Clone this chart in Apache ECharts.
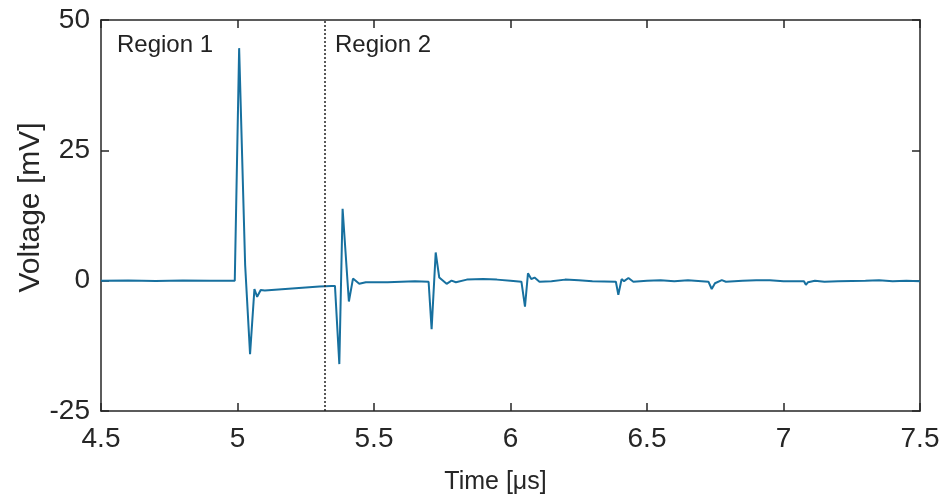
<!DOCTYPE html>
<html>
<head>
<meta charset="utf-8">
<script src="https://cdn.jsdelivr.net/npm/echarts@6/dist/echarts.min.js"></script>
<style>html,body{margin:0;padding:0;background:#fff}#c{width:943px;height:502px}</style>
</head>
<body>
<div id="c"></div>
<script>
// Time [µs]
const times = [4.50,4.60,4.70,4.80,4.90,4.990,4.994,5.006,5.028,5.046,5.062,5.072,5.085,5.10,5.15,5.20,5.25,5.30,5.345,
  5.357,5.373,5.385,5.408,5.423,5.446,5.47,5.55,5.60,5.65,5.700,
  5.703,5.711,5.726,5.739,5.766,5.784,5.80,5.84,5.90,5.95,6.00,6.040,
  6.045,6.053,6.064,6.076,6.088,6.106,6.15,6.20,6.25,6.30,6.386,
  6.395,6.407,6.416,6.432,6.450,6.50,6.55,6.60,6.65,6.725,
  6.737,6.749,6.755,6.774,6.789,6.85,6.90,6.95,7.00,7.075,
  7.082,7.090,7.115,7.15,7.20,7.30,7.35,7.40,7.45,7.50];
// Voltage [mV]
const volts = [0.0,0.05,-0.05,0.05,0.0,0.0,0.0,44.6,3.0,-14.1,-1.6,-3.1,-1.8,-1.9,-1.7,-1.5,-1.3,-1.1,-1.0,
  -1.0,-16.0,13.8,-4.0,0.4,-0.6,-0.3,-0.3,-0.2,-0.1,-0.2,
  -0.2,-9.3,5.4,0.6,-0.6,0.0,-0.3,0.2,0.3,0.2,0.0,-0.2,
  -0.2,-5.0,1.4,0.3,0.6,-0.2,-0.1,0.2,0.1,-0.1,-0.2,
  -2.7,0.3,-0.1,0.5,-0.2,0.0,0.1,-0.1,0.1,-0.2,
  -1.6,-0.5,-0.8,0.1,-0.2,0.0,0.1,0.1,-0.1,-0.1,
  -0.8,-0.3,0.0,-0.2,-0.1,0.0,0.1,-0.1,0.0,-0.1];
const regionBoundary = 5.32;
const regionLabels = ['Region 1','Region 2'];
const xTicks = {min:4.5, max:7.5, step:0.5};
const yTicks = {min:-25, max:50, step:25};

const seriesData = times.map((t,i)=>[t, volts[i]]);
const axisColor = '#262626';
const font = 'Liberation Sans, Arial, sans-serif';

const chart = echarts.init(document.getElementById('c'), null, {renderer:'canvas'});
chart.setOption({
  animation:false,
  backgroundColor:'#fff',
  grid:{left:101, right:23, top:20, bottom:91},
  xAxis:[{
    type:'value', min:xTicks.min, max:xTicks.max, interval:xTicks.step,
    name:'Time [μs]', nameLocation:'middle', nameGap:59, nameMoveOverlap:false,
    nameTextStyle:{fontFamily:font, fontSize:25, color:axisColor, padding:[0,30,0,0]},
    axisLine:{onZero:false, lineStyle:{color:axisColor, width:1.5}},
    axisTick:{inside:true, length:8, lineStyle:{color:axisColor, width:1.5}},
    axisLabel:{fontFamily:font, fontSize:28, color:axisColor, margin:14},
    splitLine:{show:false}
  },{
    type:'value', min:xTicks.min, max:xTicks.max, interval:xTicks.step, position:'top',
    axisLine:{show:true, onZero:false, lineStyle:{color:axisColor, width:1.5}},
    axisTick:{inside:true, length:8, lineStyle:{color:axisColor, width:1.5}},
    axisLabel:{show:false}, splitLine:{show:false}
  }],
  yAxis:[{
    type:'value', min:yTicks.min, max:yTicks.max, interval:yTicks.step,
    name:'Voltage [mV]', nameLocation:'middle', nameGap:55, nameMoveOverlap:false,
    nameTextStyle:{fontFamily:font, fontSize:30, color:axisColor, padding:[0,0,0,16]},
    axisLine:{show:true, onZero:false, lineStyle:{color:axisColor, width:1.5}},
    axisTick:{show:true, inside:true, length:8, lineStyle:{color:axisColor, width:1.5}},
    axisLabel:{fontFamily:font, fontSize:28, color:axisColor, margin:11},
    splitLine:{show:false}
  },{
    type:'value', min:yTicks.min, max:yTicks.max, interval:yTicks.step, position:'right',
    axisLine:{show:true, onZero:false, lineStyle:{color:axisColor, width:1.5}},
    axisTick:{show:true, inside:true, length:8, lineStyle:{color:axisColor, width:1.5}},
    axisLabel:{show:false}, splitLine:{show:false}
  }],
  series:[{
    type:'line', data:seriesData, xAxisIndex:0, yAxisIndex:0,
    showSymbol:false, symbol:'none',
    lineStyle:{color:'#17709f', width:2},
    markLine:{
      silent:true, symbol:'none', label:{show:false},
      lineStyle:{type:[2,2], color:'#222', width:1.5},
      data:[{xAxis:regionBoundary}]
    }
  }],
  graphic:[
    {type:'text', left:117, top:33, style:{text:regionLabels[0], font:'24px '+font, fill:'#222'}},
    {type:'text', left:335, top:33, style:{text:regionLabels[1], font:'24px '+font, fill:'#222'}}
  ]
});
</script>
</body>
</html>
